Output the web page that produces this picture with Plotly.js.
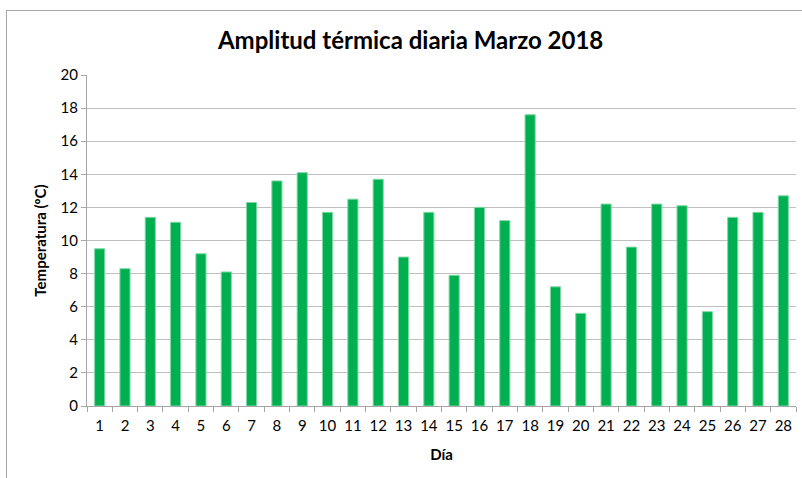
<!DOCTYPE html>
<html>
<head>
<meta charset="utf-8">
<script src="https://cdn.plot.ly/plotly-3.0.1.min.js"></script>
<style>
  html, body { margin: 0; padding: 0; background: #fff; }
  #marco { position: absolute; left: 6px; top: 10px; width: 820px; height: 500px;
           border-left: 1px solid #a6a6a6; border-top: 1px solid #a6a6a6; box-sizing: border-box; }
  #grafico { position: absolute; left: 0; top: 0; width: 802px; height: 478px; }
</style>
</head>
<body>
<div id="marco"></div>
<div id="grafico"></div>
<script>
// Días de marzo 2018
const dias = ["1","2","3","4","5","6","7","8","9","10","11","12","13","14",
              "15","16","17","18","19","20","21","22","23","24","25","26","27","28"];
// Amplitud térmica (ºC)
const amplitud = [9.5, 8.3, 11.4, 11.1, 9.2, 8.1, 12.3, 13.6, 14.1, 11.7, 12.5, 13.7, 9.0, 11.7,
                  7.9, 12.0, 11.2, 17.6, 7.2, 5.6, 12.2, 9.6, 12.2, 12.1, 5.7, 11.4, 11.7, 12.7];
const ticksY = [0, 2, 4, 6, 8, 10, 12, 14, 16, 18, 20];

const fuente = "Lato, 'Open Sans', sans-serif";

const data = [{
    type: 'bar',
    x: dias,
    y: amplitud,
    marker: { color: '#00b050', line: { color: '#7fd8a4', width: 1 } },
    hoverinfo: 'x+y'
}];

const layout = {
    width: 802,
    height: 478,
    paper_bgcolor: 'rgba(0,0,0,0)',
    plot_bgcolor: 'rgba(0,0,0,0)',
    margin: { l: 87, r: 6, t: 75, b: 72 },
    bargap: 0.6,
    showlegend: false,
    font: { family: fuente, size: 15, color: '#000' },
    title: {
        text: '<b>Amplitud térmica diaria Marzo 2018</b>',
        font: { family: fuente, size: 24, color: '#000' },
        x: 0.512, xanchor: 'center', y: 0.916, yanchor: 'middle'
    },
    xaxis: {
        type: 'category',
        tickson: 'boundaries',
        tickangle: 0,
        ticks: 'outside', ticklen: 5, tickcolor: '#a6a6a6',
        ticklabelstandoff: 6,
        showline: true, linecolor: '#a6a6a6', linewidth: 1,
        showgrid: false,
        tickfont: { family: fuente, size: 15 },
        title: { text: '<b>Día</b>', font: { family: fuente, size: 15 }, standoff: 16 }
    },
    yaxis: {
        range: [0, 20],
        tickvals: ticksY,
        ticks: 'outside', ticklen: 5, tickcolor: '#a6a6a6',
        showline: true, linecolor: '#a6a6a6', linewidth: 1,
        gridcolor: '#c0c0c0', gridwidth: 1,
        zeroline: false,
        tickfont: { family: fuente, size: 15 },
        title: { text: '<b>Temperatura (ºC)</b>', font: { family: fuente, size: 15 }, standoff: 10 }
    }
};

Plotly.newPlot('grafico', data, layout, { displayModeBar: false, staticPlot: true });
</script>
</body>
</html>
